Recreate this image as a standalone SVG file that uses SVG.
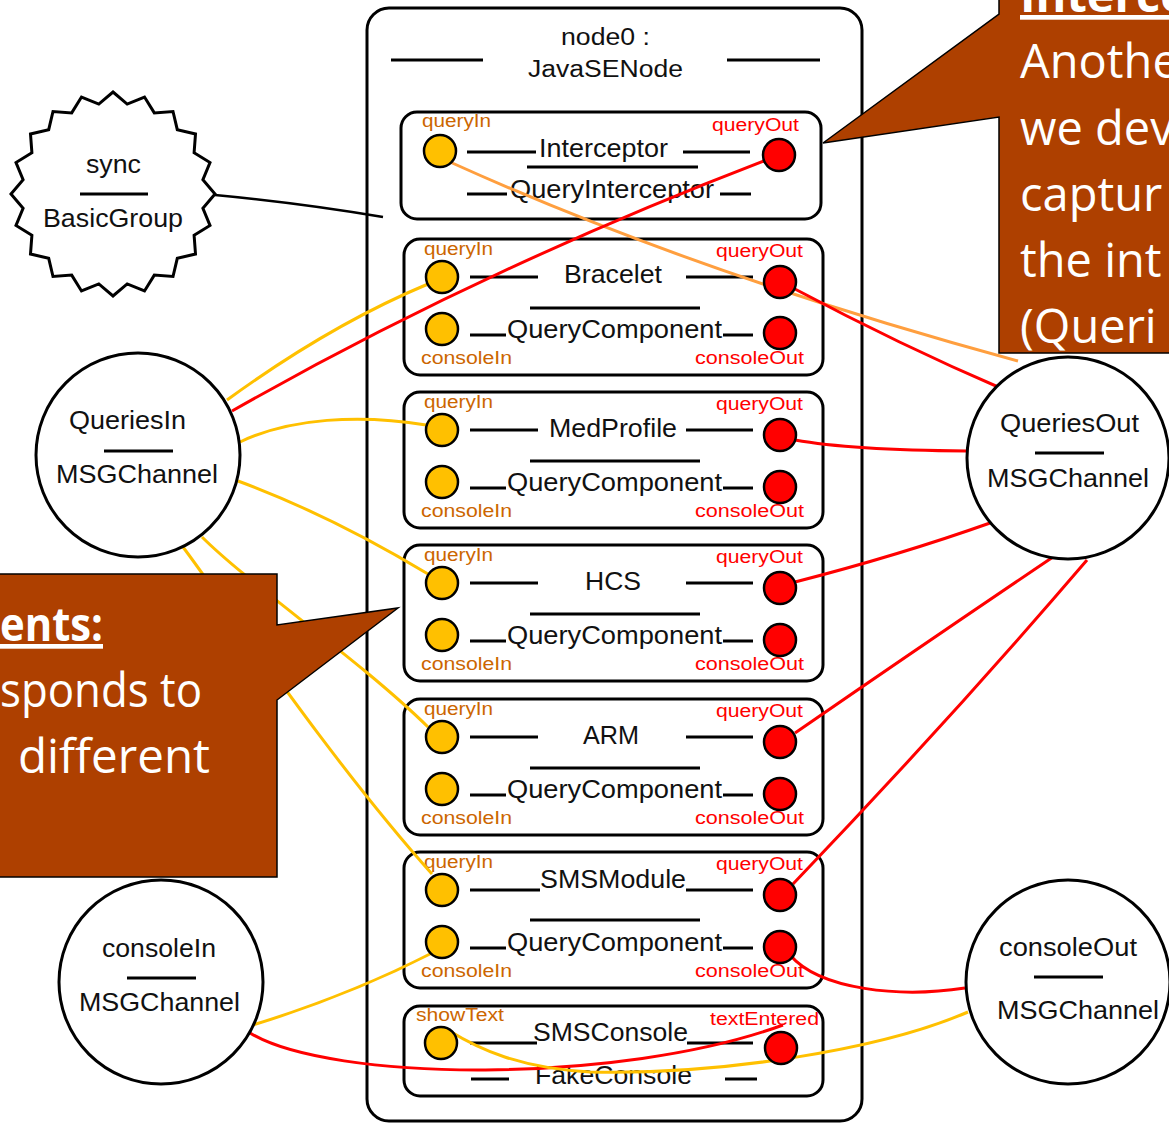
<svg xmlns="http://www.w3.org/2000/svg" width="1169" height="1123" viewBox="0 0 1169 1123">
  <defs>
    <style>
      .box { fill: #fff; stroke: #000; stroke-width: 3; }
      .sep { stroke: #000; stroke-width: 3; fill: none; }
      .t { font-family: "Liberation Sans", Arial, sans-serif; fill: #111; }
      .hdr { font-size: 23px; }
      .nm { font-size: 25px; }
      .ch { font-size: 26px; }
      .pin { font-family: "Liberation Sans", Arial, sans-serif; font-size: 18px; fill: #CC6600; }
      .pout { font-family: "Liberation Sans", Arial, sans-serif; font-size: 18px; fill: #FF0000; }
      .portIn { fill: #FFC000; stroke: #000; stroke-width: 2.5; }
      .portOut { fill: #FF0000; stroke: #000; stroke-width: 2.5; }
      .chan { fill: #fff; stroke: #000; stroke-width: 3; }
      .wY { stroke: #FFC000; stroke-width: 3; fill: none; }
      .wR { stroke: #FF0000; stroke-width: 3; fill: none; }
      .wO { stroke: #FF9F3F; stroke-width: 3; fill: none; }
      .wK { stroke: #000; stroke-width: 2.5; fill: none; }
      .callout { fill: #AE4000; stroke: #000; stroke-width: 1.5; }
      .ct { font-family: "Open Sans", "Noto Sans", sans-serif; font-size: 47px; fill: #fff; }
      .ctb { font-weight: bold; text-decoration: underline; }
    </style>
  </defs>

  <!-- node0 : JavaSENode container -->
  <g id="node0">
    <rect class="box" x="367" y="8" width="495" height="1113" rx="22"/>
    <line class="sep" x1="391" y1="60" x2="483" y2="60"/>
    <line class="sep" x1="727" y1="60" x2="820" y2="60"/>
    <text class="t hdr" x="561" y="45" textLength="89" lengthAdjust="spacingAndGlyphs">node0 :</text>
    <text class="t hdr" x="528" y="77" textLength="155" lengthAdjust="spacingAndGlyphs">JavaSENode</text>
  </g>

  <!-- component boxes -->
  <g id="interceptor">
    <rect class="box" x="401" y="112" width="420" height="107" rx="16"/>
    <line class="sep" x1="467" y1="152" x2="536" y2="152"/>
    <line class="sep" x1="683" y1="152" x2="750" y2="152"/>
    <line class="sep" x1="527" y1="167" x2="698" y2="167"/>
    <line class="sep" x1="467" y1="194" x2="507" y2="194"/>
    <line class="sep" x1="720" y1="194" x2="751" y2="194"/>
    <text class="t nm" x="539" y="157" textLength="129" lengthAdjust="spacingAndGlyphs">Interceptor</text>
    <text class="t nm" x="510" y="198" textLength="204" lengthAdjust="spacingAndGlyphs">QueryInterceptor</text>
    <text class="pin" x="422" y="127" textLength="69" lengthAdjust="spacingAndGlyphs">queryIn</text>
    <text class="pout" x="712" y="131" textLength="87" lengthAdjust="spacingAndGlyphs">queryOut</text>
  </g>

  <g id="bracelet">
    <rect class="box" x="404" y="239" width="419" height="136" rx="16"/>
    <line class="sep" x1="470" y1="277" x2="538" y2="277"/>
    <line class="sep" x1="686" y1="277" x2="753" y2="277"/>
    <line class="sep" x1="530" y1="308" x2="700" y2="308"/>
    <line class="sep" x1="470" y1="335" x2="506" y2="335"/>
    <line class="sep" x1="723" y1="335" x2="753" y2="335"/>
    <text class="t nm" x="564" y="283" textLength="98" lengthAdjust="spacingAndGlyphs">Bracelet</text>
    <text class="t nm" x="507" y="338" textLength="215" lengthAdjust="spacingAndGlyphs">QueryComponent</text>
    <text class="pin" x="424" y="255" textLength="69" lengthAdjust="spacingAndGlyphs">queryIn</text>
    <text class="pout" x="716" y="257" textLength="87" lengthAdjust="spacingAndGlyphs">queryOut</text>
    <text class="pin" x="421" y="364" textLength="91" lengthAdjust="spacingAndGlyphs">consoleIn</text>
    <text class="pout" x="695" y="364" textLength="109" lengthAdjust="spacingAndGlyphs">consoleOut</text>
  </g>

  <g id="medprofile">
    <rect class="box" x="404" y="392" width="419" height="136" rx="16"/>
    <line class="sep" x1="470" y1="430" x2="538" y2="430"/>
    <line class="sep" x1="686" y1="430" x2="753" y2="430"/>
    <line class="sep" x1="530" y1="461" x2="700" y2="461"/>
    <line class="sep" x1="470" y1="488" x2="506" y2="488"/>
    <line class="sep" x1="723" y1="488" x2="753" y2="488"/>
    <text class="t nm" x="549" y="437" textLength="128" lengthAdjust="spacingAndGlyphs">MedProfile</text>
    <text class="t nm" x="507" y="491" textLength="215" lengthAdjust="spacingAndGlyphs">QueryComponent</text>
    <text class="pin" x="424" y="408" textLength="69" lengthAdjust="spacingAndGlyphs">queryIn</text>
    <text class="pout" x="716" y="410" textLength="87" lengthAdjust="spacingAndGlyphs">queryOut</text>
    <text class="pin" x="421" y="517" textLength="91" lengthAdjust="spacingAndGlyphs">consoleIn</text>
    <text class="pout" x="695" y="517" textLength="109" lengthAdjust="spacingAndGlyphs">consoleOut</text>
  </g>

  <g id="hcs">
    <rect class="box" x="404" y="545" width="419" height="136" rx="16"/>
    <line class="sep" x1="470" y1="583" x2="538" y2="583"/>
    <line class="sep" x1="686" y1="583" x2="753" y2="583"/>
    <line class="sep" x1="530" y1="614" x2="700" y2="614"/>
    <line class="sep" x1="470" y1="641" x2="506" y2="641"/>
    <line class="sep" x1="723" y1="641" x2="753" y2="641"/>
    <text class="t nm" x="585" y="590" textLength="56" lengthAdjust="spacingAndGlyphs">HCS</text>
    <text class="t nm" x="507" y="644" textLength="215" lengthAdjust="spacingAndGlyphs">QueryComponent</text>
    <text class="pin" x="424" y="561" textLength="69" lengthAdjust="spacingAndGlyphs">queryIn</text>
    <text class="pout" x="716" y="563" textLength="87" lengthAdjust="spacingAndGlyphs">queryOut</text>
    <text class="pin" x="421" y="670" textLength="91" lengthAdjust="spacingAndGlyphs">consoleIn</text>
    <text class="pout" x="695" y="670" textLength="109" lengthAdjust="spacingAndGlyphs">consoleOut</text>
  </g>

  <g id="arm">
    <rect class="box" x="404" y="699" width="419" height="136" rx="16"/>
    <line class="sep" x1="470" y1="737" x2="538" y2="737"/>
    <line class="sep" x1="686" y1="737" x2="753" y2="737"/>
    <line class="sep" x1="530" y1="768" x2="700" y2="768"/>
    <line class="sep" x1="470" y1="795" x2="506" y2="795"/>
    <line class="sep" x1="723" y1="795" x2="753" y2="795"/>
    <text class="t nm" x="583" y="744" textLength="56" lengthAdjust="spacingAndGlyphs">ARM</text>
    <text class="t nm" x="507" y="798" textLength="215" lengthAdjust="spacingAndGlyphs">QueryComponent</text>
    <text class="pin" x="424" y="715" textLength="69" lengthAdjust="spacingAndGlyphs">queryIn</text>
    <text class="pout" x="716" y="717" textLength="87" lengthAdjust="spacingAndGlyphs">queryOut</text>
    <text class="pin" x="421" y="824" textLength="91" lengthAdjust="spacingAndGlyphs">consoleIn</text>
    <text class="pout" x="695" y="824" textLength="109" lengthAdjust="spacingAndGlyphs">consoleOut</text>
  </g>

  <g id="smsmodule">
    <rect class="box" x="404" y="852" width="419" height="136" rx="16"/>
    <line class="sep" x1="470" y1="890" x2="540" y2="890"/>
    <line class="sep" x1="686" y1="890" x2="753" y2="890"/>
    <line class="sep" x1="530" y1="920" x2="700" y2="920"/>
    <line class="sep" x1="470" y1="948" x2="506" y2="948"/>
    <line class="sep" x1="723" y1="948" x2="753" y2="948"/>
    <text class="t nm" x="540" y="888" textLength="146" lengthAdjust="spacingAndGlyphs">SMSModule</text>
    <text class="t nm" x="507" y="951" textLength="215" lengthAdjust="spacingAndGlyphs">QueryComponent</text>
    <text class="pin" x="424" y="868" textLength="69" lengthAdjust="spacingAndGlyphs">queryIn</text>
    <text class="pout" x="716" y="870" textLength="87" lengthAdjust="spacingAndGlyphs">queryOut</text>
    <text class="pin" x="421" y="977" textLength="91" lengthAdjust="spacingAndGlyphs">consoleIn</text>
    <text class="pout" x="695" y="977" textLength="109" lengthAdjust="spacingAndGlyphs">consoleOut</text>
  </g>

  <g id="smsconsole">
    <rect class="box" x="404" y="1006" width="419" height="90" rx="16"/>
    <line class="sep" x1="470" y1="1043" x2="537" y2="1043"/>
    <line class="sep" x1="687" y1="1043" x2="753" y2="1043"/>
    <line class="sep" x1="471" y1="1079" x2="509" y2="1079"/>
    <line class="sep" x1="725" y1="1079" x2="757" y2="1079"/>
    <text class="t nm" x="533" y="1041" textLength="155" lengthAdjust="spacingAndGlyphs">SMSConsole</text>
    <text class="t nm" x="535" y="1084" textLength="157" lengthAdjust="spacingAndGlyphs">FakeConsole</text>
    <text class="pin" x="416" y="1021" textLength="88" lengthAdjust="spacingAndGlyphs">showText</text>
    <text class="pout" x="710" y="1025" textLength="109" lengthAdjust="spacingAndGlyphs">textEntered</text>
  </g>

  <!-- bindings between ports and channels -->
  <g id="connectors">
    <path class="wK" d="M215,195 Q300,203 383,217"/>
    <path class="wO" d="M450,162 Q700,275 1018,361"/>
    <path class="wR" d="M764,161 Q480,270 232,411"/>
    <path class="wY" d="M227,400 Q330,325 428,284"/>
    <path class="wY" d="M240,442 C290,418 360,414 426,425"/>
    <path class="wY" d="M238,481 Q330,515 428,574"/>
    <path class="wY" d="M202,537 C250,585 360,660 428,727"/>
    <path class="wY" d="M183,547 C230,610 330,760 432,874"/>
    <path class="wY" d="M253,1025 Q350,995 432,953"/>
    <path class="wR" d="M250,1033 C330,1082 620,1085 783,1025"/>
    <path class="wY" d="M968,1012 C880,1050 720,1075 590,1072 C520,1068 480,1050 448,1030"/>
    <path class="wR" d="M965,988 C900,998 820,990 790,955"/>
    <path class="wR" d="M793,288 Q900,345 1005,390"/>
    <path class="wR" d="M795,440 Q850,450 967,451"/>
    <path class="wR" d="M795,582 Q900,555 990,523"/>
    <path class="wR" d="M795,733 Q930,640 1053,557"/>
    <path class="wR" d="M793,884 Q950,720 1087,560"/>
  </g>

  <!-- ports -->
  <g id="ports">
    <circle class="portIn" cx="440" cy="151" r="16"/>
    <circle class="portOut" cx="779" cy="155" r="16"/>
    <circle class="portIn" cx="442" cy="277" r="16"/>
    <circle class="portOut" cx="780" cy="282" r="16"/>
    <circle class="portIn" cx="442" cy="329" r="16"/>
    <circle class="portOut" cx="780" cy="333" r="16"/>
    <circle class="portIn" cx="442" cy="430" r="16"/>
    <circle class="portOut" cx="780" cy="435" r="16"/>
    <circle class="portIn" cx="442" cy="482" r="16"/>
    <circle class="portOut" cx="780" cy="487" r="16"/>
    <circle class="portIn" cx="442" cy="583" r="16"/>
    <circle class="portOut" cx="780" cy="588" r="16"/>
    <circle class="portIn" cx="442" cy="635" r="16"/>
    <circle class="portOut" cx="780" cy="640" r="16"/>
    <circle class="portIn" cx="442" cy="737" r="16"/>
    <circle class="portOut" cx="780" cy="742" r="16"/>
    <circle class="portIn" cx="442" cy="789" r="16"/>
    <circle class="portOut" cx="780" cy="794" r="16"/>
    <circle class="portIn" cx="442" cy="890" r="16"/>
    <circle class="portOut" cx="780" cy="895" r="16"/>
    <circle class="portIn" cx="442" cy="942" r="16"/>
    <circle class="portOut" cx="780" cy="947" r="16"/>
    <circle class="portIn" cx="441" cy="1043" r="16"/>
    <circle class="portOut" cx="781" cy="1048" r="16"/>
  </g>

  <!-- group and channels -->
  <g id="sync">
    <path class="chan" d="M113,92 L127.2,104.1 L144.5,97 L154.3,112.9 L173,111.5 L177.3,129.7 L195.5,134 L194.1,152.7 L210,162.5 L202.9,179.8 L215,194 L202.9,208.2 L210,225.5 L194.1,235.3 L195.5,254 L177.3,258.3 L173,276.5 L154.3,275.1 L144.5,291 L127.2,283.9 L113,296 L98.8,283.9 L81.5,291 L71.7,275.1 L53,276.5 L48.7,258.3 L30.5,254 L31.9,235.3 L16,225.5 L23.1,208.2 L11,194 L23.1,179.8 L16,162.5 L31.9,152.7 L30.5,134 L48.7,129.7 L53,111.5 L71.7,112.9 L81.5,97 L98.8,104.1 Z"/>
    <line class="sep" x1="80" y1="194" x2="148" y2="194"/>
    <text class="t ch" x="86" y="173" textLength="55" lengthAdjust="spacingAndGlyphs">sync</text>
    <text class="t ch" x="43" y="227" textLength="140" lengthAdjust="spacingAndGlyphs">BasicGroup</text>
  </g>

  <g id="queriesIn">
    <circle class="chan" cx="138" cy="455" r="102"/>
    <line class="sep" x1="104" y1="451" x2="173" y2="451"/>
    <text class="t ch" x="69" y="429" textLength="117" lengthAdjust="spacingAndGlyphs">QueriesIn</text>
    <text class="t ch" x="56" y="483" textLength="162" lengthAdjust="spacingAndGlyphs">MSGChannel</text>
  </g>

  <g id="queriesOut">
    <circle class="chan" cx="1068" cy="458" r="101"/>
    <line class="sep" x1="1035" y1="453" x2="1104" y2="453"/>
    <text class="t ch" x="1000" y="432" textLength="139" lengthAdjust="spacingAndGlyphs">QueriesOut</text>
    <text class="t ch" x="987" y="487" textLength="162" lengthAdjust="spacingAndGlyphs">MSGChannel</text>
  </g>

  <g id="consoleIn">
    <circle class="chan" cx="161" cy="982" r="102"/>
    <line class="sep" x1="127" y1="978" x2="196" y2="978"/>
    <text class="t ch" x="102" y="957" textLength="114" lengthAdjust="spacingAndGlyphs">consoleIn</text>
    <text class="t ch" x="79" y="1011" textLength="161" lengthAdjust="spacingAndGlyphs">MSGChannel</text>
  </g>

  <g id="consoleOut">
    <circle class="chan" cx="1068" cy="982" r="102"/>
    <line class="sep" x1="1034" y1="977" x2="1103" y2="977"/>
    <text class="t ch" x="999" y="956" textLength="138" lengthAdjust="spacingAndGlyphs">consoleOut</text>
    <text class="t ch" x="997" y="1019" textLength="162" lengthAdjust="spacingAndGlyphs">MSGChannel</text>
  </g>

  <!-- annotation callouts -->
  <g id="note-interceptor">
    <path class="callout" d="M999,-5 L999,14 L823,143 L999,117 L999,353 L1175,353 L1175,-5 Z"/>
    <text class="ct ctb" x="1020" y="12">Interce</text>
    <text class="ct" x="1020" y="78">Anothe</text>
    <text class="ct" x="1020" y="145">we dev</text>
    <text class="ct" x="1020" y="211">captur</text>
    <text class="ct" x="1020" y="277">the int</text>
    <text class="ct" x="1020" y="343">(Queri</text>
  </g>

  <g id="note-components">
    <path class="callout" d="M-5,574 L277,574 L277,625 L398,608 L277,700 L277,877 L-5,877 Z"/>
    <text class="ct ctb" x="0" y="641" textLength="103" lengthAdjust="spacingAndGlyphs">ents:</text>
    <text class="ct" x="0" y="707" textLength="202" lengthAdjust="spacingAndGlyphs">sponds to</text>
    <text class="ct" x="18" y="773" textLength="192" lengthAdjust="spacingAndGlyphs">different</text>
  </g>
</svg>
